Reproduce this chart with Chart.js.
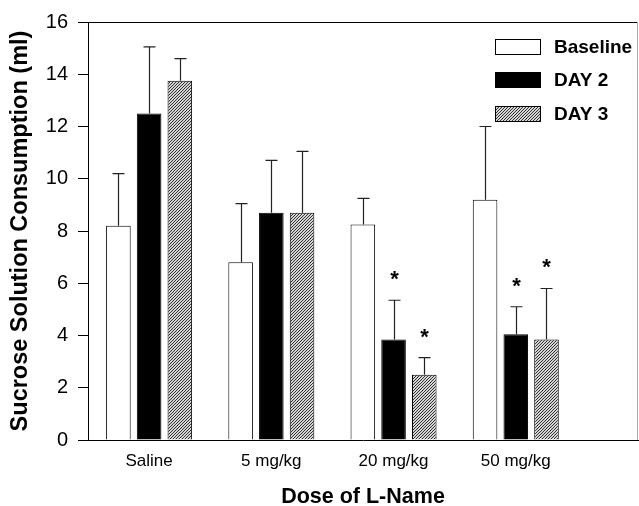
<!DOCTYPE html>
<html><head><meta charset="utf-8">
<script src="https://cdn.jsdelivr.net/npm/chart.js@4/dist/chart.umd.min.js"></script>
<style>html,body{margin:0;padding:0;background:#fff;overflow:hidden}</style>
</head><body><canvas id="c" width="639" height="506"></canvas>
<script>
const categories = ['Saline', '5 mg/kg', '20 mg/kg', '50 mg/kg'];
const seriesNames = ['Baseline', 'DAY 2', 'DAY 3'];
const baseline = [8.2, 6.8, 8.25, 9.2];
const baselineErr = [2.0, 2.25, 1.0, 2.8];
const day2 = [12.5, 8.7, 3.85, 4.05];
const day2Err = [2.55, 2.0, 1.5, 1.05];
const day3 = [13.75, 8.7, 2.5, 3.85];
const day3Err = [0.85, 2.35, 0.65, 1.95];
const baselineSig = [false, false, false, false];
const day2Sig = [false, false, true, true];
const day3Sig = [false, false, true, true];
const yTickValues = [0, 2, 4, 6, 8, 10, 12, 14, 16];

const FONT = "'Liberation Sans', Arial, Helvetica, sans-serif";

function makeHatch() {
  const c = document.createElement('canvas');
  c.width = 3; c.height = 3;
  const x = c.getContext('2d');
  x.fillStyle = '#d4d4d4'; x.fillRect(0, 0, 3, 3);
  x.fillStyle = '#333';
  x.fillRect(2, 0, 1, 1); x.fillRect(1, 1, 1, 1); x.fillRect(0, 2, 1, 1);
  return x.createPattern(c, 'repeat');
}
const hatch = makeHatch();
const fills = ['#ffffff', '#000000', hatch];

const seriesData = [baseline, day2, day3];
const seriesErr = [baselineErr, day2Err, day3Err];
const seriesSig = [baselineSig, day2Sig, day3Sig];

const datasets = seriesNames.map((name, k) => ({
  label: name,
  data: seriesData[k],
  err: seriesErr[k],
  sig: seriesSig[k],
  backgroundColor: fills[k],
  borderColor: '#000',
  borderWidth: 1,
  categoryPercentage: 0.754,
  barPercentage: 0.80
}));

const errorBars = {
  id: 'errorBars',
  afterDatasetsDraw(chart) {
    const ctx = chart.ctx, ys = chart.scales.y;
    ctx.save();
    ctx.strokeStyle = '#222';
    ctx.lineWidth = 1.2;
    ctx.fillStyle = '#000';
    ctx.font = 'bold 22px ' + FONT;
    ctx.textAlign = 'center';
    ctx.textBaseline = 'alphabetic';
    chart.data.datasets.forEach((d, di) => {
      chart.getDatasetMeta(di).data.forEach((bar, i) => {
        const top = ys.getPixelForValue(d.data[i] + d.err[i]);
        const x = Math.round(bar.x) + 0.5;
        ctx.beginPath();
        ctx.moveTo(x, bar.y);
        ctx.lineTo(x, top);
        ctx.moveTo(x - 6, top);
        ctx.lineTo(x + 6, top);
        ctx.stroke();
        if (d.sig[i]) ctx.fillText('*', x, top - 14);
      });
    });
    ctx.restore();
  }
};

const frame = {
  id: 'frame',
  afterDraw(chart) {
    const {ctx, chartArea: a} = chart;
    ctx.save();
    ctx.strokeStyle = '#000';
    ctx.lineWidth = 1;
    ctx.beginPath();
    ctx.moveTo(a.left, a.top + 0.5);
    ctx.lineTo(a.right, a.top + 0.5);
    ctx.stroke();
    ctx.strokeStyle = '#aaa';
    ctx.beginPath();
    ctx.moveTo(a.right - 0.5, a.top);
    ctx.lineTo(a.right - 0.5, a.bottom);
    ctx.stroke();
    // legend
    const bx = a.right - 143, bw = 46, bh = 16;
    const rows = [a.top + 17, a.top + 50, a.top + 84];
    ctx.font = 'bold 19px ' + FONT;
    ctx.textAlign = 'left';
    ctx.textBaseline = 'middle';
    seriesNames.forEach((n, k) => {
      const y = rows[k];
      ctx.fillStyle = fills[k];
      ctx.fillRect(bx, y, bw, bh);
      ctx.strokeStyle = '#000';
      ctx.strokeRect(bx + 0.5, y + 0.5, bw - 1, bh - 1);
      ctx.fillStyle = '#000';
      ctx.fillText(n, bx + 59, y + bh / 2 + 1);
    });
    ctx.restore();
  }
};

new Chart(document.getElementById('c'), {
  type: 'bar',
  data: { labels: categories.map((c, i) => i + 1), datasets },
  options: {
    responsive: false,
    animation: false,
    devicePixelRatio: 1,
    layout: { padding: { top: 19, right: 1, left: 0, bottom: 0 } },
    plugins: { legend: { display: false }, tooltip: { enabled: false } },
    scales: {
      x: {
        type: 'linear',
        min: 0.5,
        max: 5,
        offset: false,
        afterBuildTicks: s => { s.ticks = categories.map((c, i) => ({ value: i + 1 })); },
        afterFit: s => { s.height = 66; },
        grid: { display: false, drawTicks: false, offset: false },
        border: { display: true, color: '#000', width: 1 },
        ticks: {
          autoSkip: false, maxRotation: 0, padding: 11, color: '#000',
          font: { family: FONT, size: 17 },
          callback: v => categories[Math.round(v) - 1] || ''
        },
        title: {
          display: true, text: 'Dose of L-Name', color: '#000',
          font: { family: FONT, size: 21.5, weight: 'bold', lineHeight: 1.0 },
          padding: { top: 0, bottom: -2 }
        }
      },
      y: {
        min: 0,
        max: 16,
        afterBuildTicks: s => { s.ticks = yTickValues.map(v => ({ value: v })); },
        afterFit: s => { s.width = 88; },
        grid: { display: true, drawOnChartArea: false, drawTicks: true, tickLength: 10, color: '#000', lineWidth: 1 },
        border: { display: true, color: '#000', width: 1 },
        ticks: { padding: 10, color: '#000', font: { family: FONT, size: 20 } },
        title: {
          display: true, text: 'Sucrose Solution Consumption (ml)', color: '#000',
          font: { family: FONT, size: 23.5, weight: 'bold', lineHeight: 1.2 },
          padding: { top: 6, bottom: 0 }
        }
      }
    }
  },
  plugins: [errorBars, frame]
});
</script>
</body></html>
